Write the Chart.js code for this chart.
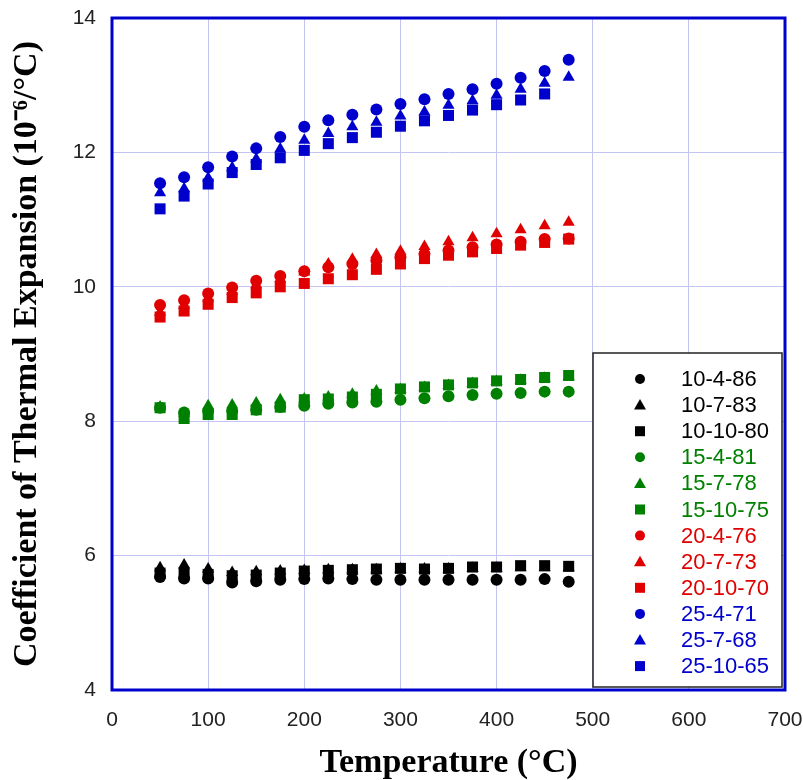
<!DOCTYPE html>
<html>
<head>
<meta charset="utf-8">
<script src="https://cdn.jsdelivr.net/npm/chart.js@4/dist/chart.umd.min.js"></script>
<style>
  html, body { margin: 0; padding: 0; background: #fff; }
  #wrap { width: 803px; height: 780px; }
</style>
</head>
<body>
<div id="wrap"><canvas id="cteChart" width="803" height="780"></canvas></div>
<script>
// temperatures (°C)
const temps = [50, 75, 100, 125, 150, 175, 200, 225, 250, 275, 300, 325, 350, 375, 400, 425, 450, 475];

// CTE values (10^-6/°C)
const s10_4_86  = [5.68, 5.66, 5.66, 5.60, 5.62, 5.64, 5.65, 5.66, 5.65, 5.64, 5.64, 5.64, 5.64, 5.64, 5.64, 5.64, 5.65, 5.61];
const s10_7_83  = [5.82, 5.86, 5.80, 5.75, 5.76, 5.77, 5.78, 5.79, 5.79, 5.79, 5.80, 5.80, 5.80, 5.81, 5.81, 5.82, 5.82, 5.82];
const s10_10_80 = [5.74, 5.74, 5.72, 5.70, 5.71, 5.74, 5.77, 5.78, 5.79, 5.80, 5.81, 5.80, 5.81, 5.83, 5.83, 5.85, 5.85, 5.84];
const s15_4_81  = [8.20, 8.13, 8.15, 8.15, 8.17, 8.21, 8.23, 8.26, 8.28, 8.29, 8.32, 8.34, 8.37, 8.39, 8.41, 8.42, 8.44, 8.44];
const s15_7_78  = [8.21, 8.12, 8.23, 8.24, 8.27, 8.32, 8.33, 8.36, 8.40, 8.45, 8.47, 8.50, 8.53, 8.56, 8.59, 8.61, 8.64, 8.66];
const s15_10_75 = [8.20, 8.04, 8.10, 8.10, 8.17, 8.21, 8.32, 8.33, 8.36, 8.40, 8.48, 8.51, 8.54, 8.57, 8.60, 8.62, 8.65, 8.68];
const s20_4_76  = [9.73, 9.80, 9.90, 9.99, 10.09, 10.16, 10.23, 10.29, 10.34, 10.39, 10.44, 10.49, 10.54, 10.59, 10.63, 10.67, 10.71, 10.72];
const s20_7_73  = [9.62, 9.72, 9.83, 9.93, 10.03, 10.12, 10.22, 10.34, 10.41, 10.48, 10.53, 10.60, 10.67, 10.73, 10.79, 10.85, 10.91, 10.96];
const s20_10_70 = [9.55, 9.64, 9.74, 9.84, 9.91, 10.00, 10.05, 10.12, 10.18, 10.26, 10.34, 10.42, 10.47, 10.52, 10.57, 10.62, 10.66, 10.71];
const s25_4_71  = [11.54, 11.63, 11.78, 11.94, 12.06, 12.23, 12.38, 12.48, 12.56, 12.64, 12.72, 12.79, 12.87, 12.94, 13.02, 13.11, 13.21, 13.38];
const s25_7_68  = [11.40, 11.46, 11.62, 11.77, 11.90, 12.05, 12.18, 12.28, 12.38, 12.45, 12.54, 12.60, 12.70, 12.77, 12.85, 12.94, 13.03, 13.12];
const s25_10_65 = [11.16, 11.35, 11.53, 11.70, 11.82, 11.92, 12.03, 12.13, 12.22, 12.30, 12.39, 12.47, 12.55, 12.63, 12.71, 12.78, 12.87, null];

const BLACK = '#000000', GREEN = '#008000', RED = '#e00000', BLUE = '#0000cc';

function pts(vals) {
  return temps.map((t, i) => ({ x: t, y: vals[i] }));
}

const seriesList = [
  ['10-4-86', s10_4_86, BLACK, 'circle'],
  ['10-7-83', s10_7_83, BLACK, 'triangle'],
  ['10-10-80', s10_10_80, BLACK, 'rect'],
  ['15-4-81', s15_4_81, GREEN, 'circle'],
  ['15-7-78', s15_7_78, GREEN, 'triangle'],
  ['15-10-75', s15_10_75, GREEN, 'rect'],
  ['20-4-76', s20_4_76, RED, 'circle'],
  ['20-7-73', s20_7_73, RED, 'triangle'],
  ['20-10-70', s20_10_70, RED, 'rect'],
  ['25-4-71', s25_4_71, BLUE, 'circle'],
  ['25-7-68', s25_7_68, BLUE, 'triangle'],
  ['25-10-65', s25_10_65, BLUE, 'rect']
];

const radiusFor = { circle: 6, triangle: 7, rect: 7.8 };

const datasets = seriesList.map((s, i) => ({
  label: s[0],
  data: pts(s[1]),
  backgroundColor: s[2],
  borderColor: s[2],
  borderWidth: 0,
  pointStyle: s[3],
  pointRadius: radiusFor[s[3]],
  showLine: false,
  order: seriesList.length - i   // later series drawn on top
}));

// blue frame around the plot area
const frame = {
  id: 'frame',
  afterDatasetsDraw(chart) {
    const a = chart.chartArea, ctx = chart.ctx;
    ctx.save();
    ctx.strokeStyle = BLUE;
    ctx.lineWidth = 3;
    ctx.strokeRect(a.left, a.top, a.right - a.left, a.bottom - a.top);
    ctx.restore();
  }
};

// boxed legend inside the lower right corner
const boxLegend = {
  id: 'boxLegend',
  afterDraw(chart) {
    const ctx = chart.ctx;
    const x0 = 593, y0 = 353, x1 = 782, y1 = 687;
    ctx.save();
    ctx.fillStyle = '#fff';
    ctx.fillRect(x0, y0, x1 - x0, y1 - y0);
    ctx.strokeStyle = '#222';
    ctx.lineWidth = 1.5;
    ctx.strokeRect(x0, y0, x1 - x0, y1 - y0);
    ctx.font = '22px "Liberation Sans", Arial, sans-serif';
    ctx.textBaseline = 'middle';
    ctx.textAlign = 'left';
    chart.data.datasets.forEach((ds, i) => {
      const y = 379 + i * 26.1, mx = 640;
      ctx.fillStyle = ds.backgroundColor;
      ctx.beginPath();
      if (ds.pointStyle === 'circle') {
        ctx.arc(mx, y, 5, 0, Math.PI * 2);
      } else if (ds.pointStyle === 'triangle') {
        ctx.moveTo(mx, y - 6);
        ctx.lineTo(mx + 6, y + 4.5);
        ctx.lineTo(mx - 6, y + 4.5);
        ctx.closePath();
      } else {
        ctx.rect(mx - 5, y - 5, 10, 10);
      }
      ctx.fill();
      ctx.fillText(ds.label, 681, y + 1);
    });
    ctx.restore();
  }
};

new Chart(document.getElementById('cteChart'), {
  type: 'scatter',
  data: { datasets: datasets },
  options: {
    responsive: false,
    animation: false,
    layout: { padding: { left: 0, right: 18, top: 18, bottom: 0 } },
    plugins: {
      legend: { display: false },
      tooltip: { enabled: false }
    },
    scales: {
      x: {
        type: 'linear',
        min: 0,
        max: 700,
        afterFit(scale) {
          scale.height = 90;
          scale.paddingLeft = 0;
          scale.paddingRight = 0;
        },
        grid: { color: '#c4c4f2', lineWidth: 1, drawTicks: false },
        border: { display: false },
        ticks: {
          stepSize: 100,
          padding: 18,
          color: '#222',
          font: { family: '"Liberation Sans", Arial, sans-serif', size: 21 }
        },
        title: {
          display: true,
          text: 'Temperature (°C)',
          color: '#000',
          padding: { top: 0, bottom: 0 },
          font: { family: '"Liberation Serif", "Times New Roman", serif', size: 34, weight: 'bold', lineHeight: 1.0 }
        }
      },
      y: {
        min: 4,
        max: 14,
        afterFit(scale) {
          scale.width = 112;
          scale.paddingTop = 0;
          scale.paddingBottom = 0;
        },
        grid: { color: '#c4c4f2', lineWidth: 1, drawTicks: false },
        border: { display: false },
        ticks: {
          stepSize: 2,
          padding: 16,
          color: '#222',
          font: { family: '"Liberation Sans", Arial, sans-serif', size: 21 }
        },
        title: {
          display: true,
          text: 'Coefficient of Thermal Expansion (10⁻⁶/°C)',
          color: '#000',
          padding: { top: 7, bottom: 0 },
          font: { family: '"Liberation Serif", "Times New Roman", serif', size: 34, weight: 'bold' }
        }
      }
    }
  },
  plugins: [frame, boxLegend]
});
</script>
</body>
</html>
